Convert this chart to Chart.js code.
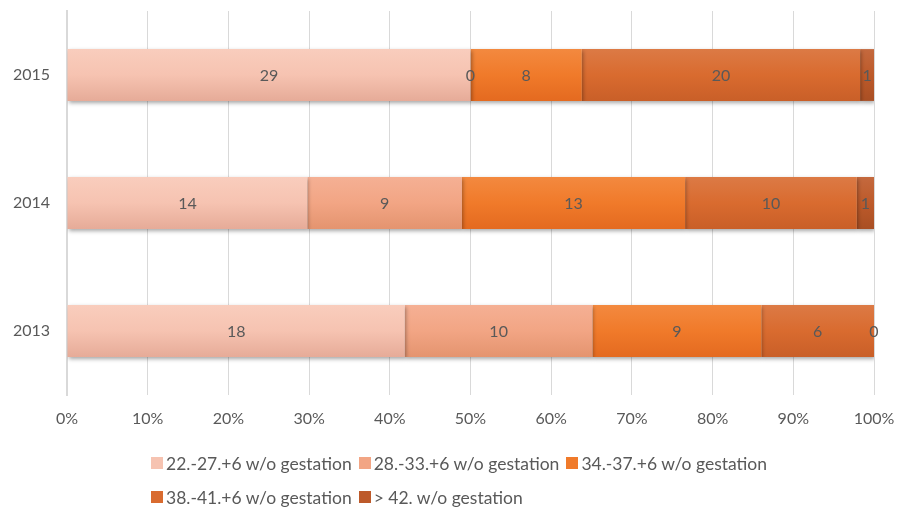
<!DOCTYPE html>
<html>
<head>
<meta charset="utf-8">
<script src="https://cdn.jsdelivr.net/npm/chart.js@4.4.1/dist/chart.umd.min.js"></script>
<style>
  html, body { margin: 0; padding: 0; background: #fff; }
  #wrap { position: relative; width: 897px; height: 507px; }
  #legend { position: absolute; left: 151px; top: 446px; width: 740px; font-family: Lato, "Open Sans", sans-serif; font-size: 17.5px; color: #595959; }
  .row { height: 34px; display: flex; align-items: center; white-space: nowrap; }
  .item { display: flex; align-items: center; margin-right: 7px; }
  .box { width: 12px; height: 12px; margin-right: 3px; }
</style>
</head>
<body>
<div id="wrap">
  <canvas id="c" width="897" height="507"></canvas>
  <div id="legend"></div>
</div>
<script>
const years = ['2015', '2014', '2013'];
const seriesNames = [
  '22.-27.+6 w/o gestation',
  '28.-33.+6 w/o gestation',
  '34.-37.+6 w/o gestation',
  '38.-41.+6 w/o gestation',
  '> 42. w/o gestation'
];
const s2227 = [29, 14, 18];
const s2833 = [0, 9, 10];
const s3437 = [8, 13, 9];
const s3841 = [20, 10, 6];
const s42 = [1, 1, 0];
const xTicks = ['0%','10%','20%','30%','40%','50%','60%','70%','80%','90%','100%'];

const counts = [s2227, s2833, s3437, s3841, s42];
const baseColors = ['#f6c3b1', '#f2a584', '#f07a2a', '#d96b2f', '#bd5a2a'];
const topColors = ['#f9cdbd', '#f5b094', '#f3893f', '#dc7a45', '#c4693e'];
const botColors = ['#e6ab98', '#e4946f', '#e46a20', '#c95f28', '#a94f24'];

const totals = years.map((_, j) => counts.reduce((a, s) => a + s[j], 0));
const BAR_PCT = 0.405;

function grad(i) {
  return function(ctx) {
    const c = ctx.chart, ys = c.scales && c.scales.y;
    if (ctx.type !== 'data' || !ys || !ys.height) return baseColors[i];
    const yc = ys.getPixelForValue(ctx.dataIndex);
    const h = (ys.height / years.length) * BAR_PCT;
    const g = c.ctx.createLinearGradient(0, yc - h / 2, 0, yc + h / 2);
    g.addColorStop(0, topColors[i]);
    g.addColorStop(0.5, baseColors[i]);
    g.addColorStop(1, botColors[i]);
    return g;
  };
}

const datasets = seriesNames.map((name, i) => ({
  label: name,
  data: counts[i].map((v, j) => v / totals[j] * 100),
  counts: counts[i],
  backgroundColor: grad(i),
  borderWidth: 0,
  categoryPercentage: 1,
  barPercentage: BAR_PCT
}));

const FONT = 'Lato, "Open Sans", sans-serif';

const shadowPlugin = {
  id: 'shadowAndLabels',
  beforeDatasetsDraw(chart) {
    const ctx = chart.ctx;
    ctx.save();
    ctx.shadowColor = 'rgba(0,0,0,0.35)';
    ctx.shadowBlur = 4;
    ctx.shadowOffsetX = 1;
    ctx.shadowOffsetY = 2;
  },
  afterDatasetsDraw(chart) {
    const ctx = chart.ctx;
    ctx.restore();
    ctx.save();
    ctx.font = '16px ' + FONT;
    ctx.fillStyle = '#595959';
    ctx.textAlign = 'center';
    ctx.textBaseline = 'middle';
    chart.data.datasets.forEach((ds, i) => {
      const meta = chart.getDatasetMeta(i);
      meta.data.forEach((el, j) => {
        const x = (el.x + el.base) / 2;
        ctx.fillText(String(ds.counts[j]), x, el.y + 1);
      });
    });
    ctx.restore();
  }
};

new Chart(document.getElementById('c'), {
  type: 'bar',
  data: { labels: years, datasets },
  options: {
    indexAxis: 'y',
    responsive: false,
    animation: false,
    layout: { padding: { top: 11, right: 23, bottom: 0, left: 0 } },
    plugins: { legend: { display: false }, tooltip: { enabled: false } },
    scales: {
      x: {
        stacked: true,
        min: 0, max: 100,
        ticks: {
          stepSize: 10,
          color: '#595959',
          font: { family: FONT, size: 16 },
          padding: 14,
          callback: (v, idx) => xTicks[idx]
        },
        grid: { color: '#d9d9d9', lineWidth: 1, drawTicks: false },
        border: { display: false },
        afterFit(s) { s.height = 112; s.paddingLeft = 0; s.paddingRight = 0; s.paddingTop = 0; s.paddingBottom = 0; }
      },
      y: {
        stacked: true,
        ticks: { color: '#595959', font: { family: FONT, size: 16 }, padding: 17 },
        grid: { display: false, drawTicks: false },
        border: { display: true, color: '#d9d9d9', width: 2 },
        afterFit(s) { s.width = 67; s.paddingLeft = 0; s.paddingRight = 0; s.paddingTop = 0; s.paddingBottom = 0; }
      }
    }
  },
  plugins: [shadowPlugin]
});

// HTML legend built from series names
const legend = document.getElementById('legend');
const rows = [[0, 1, 2], [3, 4]];
rows.forEach(r => {
  const row = document.createElement('div');
  row.className = 'row';
  r.forEach(i => {
    const it = document.createElement('div');
    it.className = 'item';
    const b = document.createElement('span');
    b.className = 'box';
    b.style.background = baseColors[i];
    const t = document.createElement('span');
    t.textContent = seriesNames[i];
    it.appendChild(b); it.appendChild(t);
    row.appendChild(it);
  });
  legend.appendChild(row);
});
</script>
</body>
</html>
